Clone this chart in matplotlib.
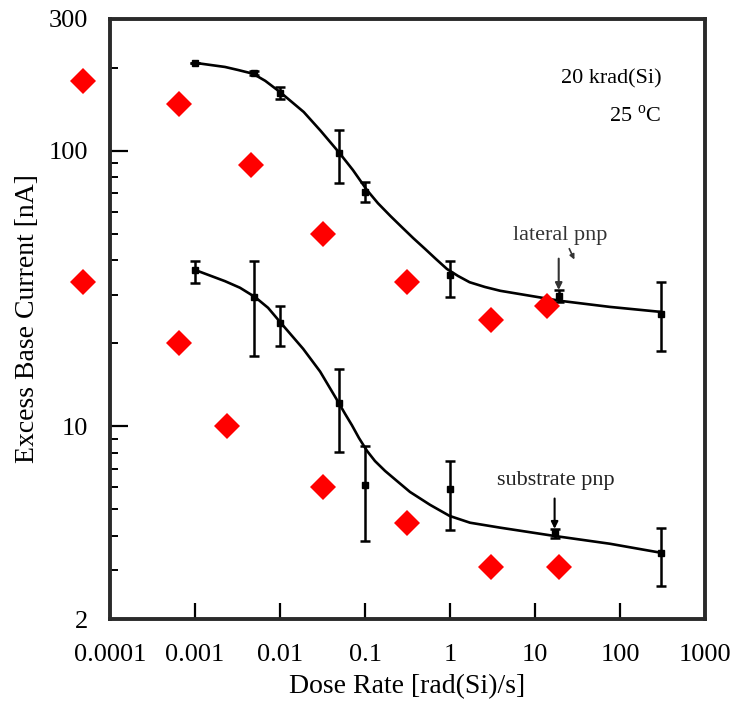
import matplotlib
matplotlib.use('Agg')
import matplotlib.pyplot as plt
from matplotlib.ticker import FixedLocator, NullFormatter

plt.rcParams['font.family'] = ['Liberation Serif', 'DejaVu Serif']
plt.rcParams['mathtext.fontset'] = 'custom'
plt.rcParams['mathtext.rm'] = 'Liberation Serif'

# lateral pnp measurements
lat_x = [0.001, 0.005, 0.01, 0.05, 0.1, 1, 19, 300]
lat_y = [208, 191, 162, 98, 71, 35.4, 29.7, 25.6]
lat_lo = [208, 188, 154, 76, 65, 29.4, 28.2, 18.8]
lat_hi = [208, 194, 170, 119, 77, 39.7, 31.3, 33.3]

# substrate pnp measurements
sub_x = [0.001, 0.005, 0.01, 0.05, 0.1, 1, 17, 300]
sub_y = [36.9, 29.4, 23.6, 12.1, 6.1, 5.9, 4.1, 3.48]
sub_lo = [33.1, 18.0, 19.5, 8.05, 3.85, 4.22, 3.95, 2.64]
sub_hi = [39.7, 39.9, 27.4, 16.2, 8.5, 7.48, 4.25, 4.29]

# fitted curves
lat_fit_x = [0.001, 0.00225, 0.0032, 0.0048, 0.0067, 0.01, 0.019, 0.03, 0.05,
             0.072, 0.105, 0.142, 0.2, 0.272, 0.37, 0.508, 0.684, 0.92, 1.24,
             1.7, 2.58, 3.9, 20, 76, 300]
lat_fit_y = [208, 201, 196, 190, 179, 163, 138, 118, 98,
             85, 72, 64.4, 57.8, 52.7, 48.1, 44, 40.4, 37.2, 35.1,
             33.3, 32.0, 31, 28.5, 27.1, 26]
sub_fit_x = [0.001, 0.00225, 0.00338, 0.0051, 0.00723, 0.01, 0.0187, 0.0296,
             0.048, 0.0582, 0.07, 0.085, 0.106, 0.131, 0.172, 0.238, 0.338,
             0.582, 0.99, 1.72, 3.87, 16.2, 76, 300]
sub_fit_y = [36.9, 33.6, 31.8, 29.4, 26.9, 23.9, 19.1, 15.8,
             12.3, 11.1, 10.1, 9.06, 8.13, 7.48, 6.89, 6.33, 5.78,
             5.19, 4.73, 4.47, 4.29, 4.01, 3.75, 3.48]

# red diamonds
dia_x = [4.8e-5, 6.5e-4, 0.00456, 0.032, 4.8e-5, 6.5e-4, 0.00238, 0.032,
         0.31, 3.0, 13.8, 0.31, 3.0, 19]
dia_y = [179, 147, 89, 50, 33.3, 20, 10, 6.0,
         33.3, 24.3, 27.4, 4.47, 3.1, 3.1]

xticks = [1e-4, 1e-3, 1e-2, 1e-1, 1, 10, 100, 1000]
xlabels = ['0.0001', '0.001', '0.01', '0.1', '1', '10', '100', '1000']
yticks = [2, 10, 100, 300]
ylabels = ['2', '10', '100', '300']
yminor = [3, 4, 5, 6, 7, 8, 9, 20, 30, 40, 50, 60, 70, 80, 90, 200]

fig = plt.figure(figsize=(7.35, 7.06), dpi=100)
ax = fig.add_axes([0.1497, 0.1232, 0.8095, 0.8499])
ax.set_xscale('log')
ax.set_yscale('log')
ax.set_xlim(1e-4, 1e3)
ax.set_ylim(2, 300)

ax.plot(lat_fit_x, lat_fit_y, color='black', lw=1.9)
ax.plot(sub_fit_x, sub_fit_y, color='black', lw=1.9)

for xs, ys, lo, hi in [(lat_x, lat_y, lat_lo, lat_hi), (sub_x, sub_y, sub_lo, sub_hi)]:
    err = [[y - l for y, l in zip(ys, lo)], [h - y for y, h in zip(ys, hi)]]
    ax.errorbar(xs, ys, yerr=err, fmt='s', color='black', ms=5,
                capsize=3.6, elinewidth=1.8, capthick=1.8)

ax.plot(dia_x, dia_y, 'D', color='#ff0000', ms=13, mew=0, clip_on=False, zorder=5)

# annotations
ax.text(0.842, 0.9, '20 krad(Si)', transform=ax.transAxes, ha='center', va='center', fontsize=16)
ax.text(0.882, 0.838, r'25 $^{\rm o}$C', transform=ax.transAxes, ha='center', va='center', fontsize=16)
ax.text(19.7, 49, 'lateral pnp', ha='center', va='center', fontsize=16, color='#333333')
ax.text(17.7, 6.38, 'substrate pnp', ha='center', va='center', fontsize=16, color='#222222')
ax.annotate('', xy=(19, 30.5), xytext=(19, 41.5),
            arrowprops=dict(arrowstyle='-|>', color='#333333', lw=1.5, mutation_scale=10))
ax.annotate('', xy=(30, 39.4), xytext=(24.5, 45),
            arrowprops=dict(arrowstyle='-|>', color='#333333', lw=1.2, mutation_scale=7))
ax.annotate('', xy=(17, 4.15), xytext=(17, 5.6),
            arrowprops=dict(arrowstyle='-|>', color='black', lw=1.5, mutation_scale=10))

# axes styling
ax.xaxis.set_major_locator(FixedLocator(xticks))
ax.set_xticklabels(xlabels)
ax.xaxis.set_minor_locator(FixedLocator([]))
ax.yaxis.set_major_locator(FixedLocator(yticks))
ax.set_yticklabels(ylabels)
ax.yaxis.set_minor_locator(FixedLocator(yminor))
ax.yaxis.set_minor_formatter(NullFormatter())

ax.tick_params(axis='x', which='major', direction='in', length=11.5, width=1.6,
               pad=18, labelsize=19)
ax.tick_params(axis='y', which='major', direction='in', length=13, width=1.6,
               pad=16, labelsize=19)
ax.tick_params(axis='y', which='minor', direction='in', length=6, width=1.4)
ax.tick_params(top=False, right=False, which='both')

for s in ax.spines.values():
    s.set_linewidth(2.8)
    s.set_color('#2a2a2a')

ax.set_xlabel('Dose Rate [rad(Si)/s]', fontsize=20, labelpad=6)
ax.set_ylabel('Excess Base Current [nA]', fontsize=20, labelpad=6)

fig.savefig('out.png', dpi=100)
